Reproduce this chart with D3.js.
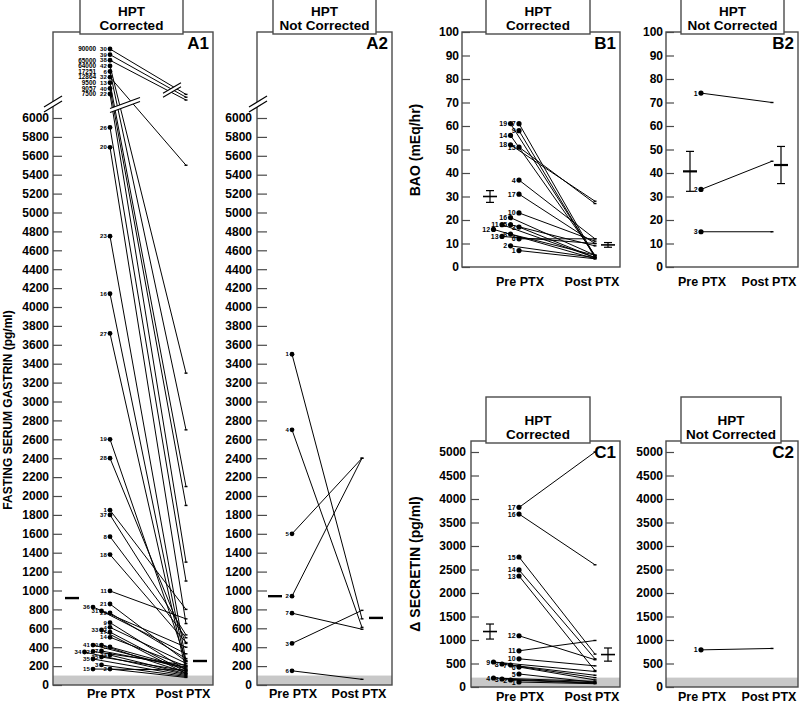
<!DOCTYPE html>
<html>
<head>
<meta charset="utf-8">
<script src="https://cdn.jsdelivr.net/npm/d3@7"></script>
<style>
  body { margin: 0; background: #fff; }
  text { font-family: "Liberation Sans", Arial, Helvetica, sans-serif; font-weight: bold; }
</style>
</head>
<body>
<div id="chart"></div>
<script>
const svgWidth = 800;
const svgHeight = 705;

// ---- values ----
// A: fasting serum gastrin (pg/ml), patients 1..42 / 1..7
const gastrinCorrectedId = d3.range(1, 43);
const gastrinCorrectedPre = [1850, 169, 212, 610, 402, 17251, 360, 1570, 660, 423,
  995, 355, 9500, 505, 169, 4140, 560, 1380, 2600, 5690,
  857, 7500, 4750, 317, 296, 5900, 3720, 2400, 762, 90000,
  783, 12864, 582, 349, 275, 825, 1800, 65000, 75000, 9057,
  423, 64000];
const gastrinCorrectedPost = [800, 80, 90, 230, 180, 2700, 190, 500, 160, 130,
  700, 210, 2100, 200, 160, 200, 140, 450, 260, 650,
  250, 1300, 250, 120, 150, 1100, 150, 440, 280, 6250,
  330, 5500, 120, 110, 100, 400, 530, 6190, 6220, 1900,
  170, 3300];
// values printed beside the points above the axis break (top to bottom)
const gastrinUpperId = [30, 39, 38, 42, 6, 32, 13, 40, 22];
const gastrinUpperText = ["90000", "", "65000", "64000", "17251", "12864", "9500", "9057", "7500"];
const gastrinCorrectedMedian = [920, 254];

const gastrinNotId = d3.range(1, 8);
const gastrinNotPre = [3500, 940, 440, 2700, 1600, 150, 760];
const gastrinNotPost = [700, 2400, 790, 610, 2400, 60, 590];
const gastrinNotMedian = [940, 710];

// B: basal acid output (mEq/hr)
const baoCorrectedId = d3.range(1, 20);
const baoCorrectedPre = [7, 9, 17, 37, 18, 12, 61, 14, 58, 23, 18, 16, 13, 56, 51, 21, 31, 52, 61];
const baoCorrectedPost = [3.5, 4, 4, 12, 9, 12, 4.5, 5, 4, 11, 4, 3.5, 10, 5, 27, 5, 10, 28, 4.5];
const baoCorrectedMean = [30, 9.4];
const baoCorrectedSem = [2.5, 1];

const baoNotId = [1, 2, 3];
const baoNotPre = [74, 33, 15];
const baoNotPost = [70, 45, 15];
const baoNotMean = [40.7, 43.4];
const baoNotSem = [8.5, 7.9];

// C: delta secretin (pg/ml)
const secCorrectedId = d3.range(1, 18);
const secCorrectedPre = [106, 149, 170, 191, 277, 425, 468, 489, 532, 600, 770, 1090, 2362, 2490, 2766, 3680, 3820];
const secCorrectedPost = [70, 80, 90, 120, 100, 150, 250, 200, 330, 450, 990, 580, 350, 600, 700, 2600, 5000];
const secCorrectedMean = [1180, 690];
const secCorrectedSem = [160, 140];

const secNotId = [1];
const secNotPre = [790];
const secNotPost = [820];

const xLabels = ["Pre PTX", "Post PTX"];

// ---- drawing ----
const svg = d3.select("#chart")
  .append("svg")
  .attr("width", svgWidth)
  .attr("height", svgHeight);

const boxColor = "#4a4a4a";
const bandColor = "#c8c8c8";

// y scales
const yA = d3.scaleLinear().domain([0, 6000]).range([685, 118]);
const yB = d3.scaleLinear().domain([0, 100]).range([267, 32]);
const yC = d3.scaleLinear().domain([0, 5000]).range([687, 452]);
// above the break the points are just stacked in order
const yUpper = d3.scalePoint().domain(gastrinUpperId).range([49, 94]);

// push close points to columns further left
function dodge(ys, minGap) {
  const cols = [];
  return ys.map(y => {
    if (y === null) return 0;
    let k = 0;
    while ((cols[k] || []).some(v => Math.abs(v - y) < minGap)) k++;
    (cols[k] = cols[k] || []).push(y);
    return k;
  });
}

// axis break: two parallel slanted strokes with white in between
function axisBreak(g, cx, cy, half, slope, gap) {
  const p = [[cx - half, cy + half * -slope], [cx + half, cy - half * -slope]];
  const pts = [
    [p[0][0], p[0][1] - gap / 2], [p[1][0], p[1][1] - gap / 2],
    [p[1][0], p[1][1] + gap / 2], [p[0][0], p[0][1] + gap / 2]
  ];
  g.append("polygon").attr("points", pts.map(d => d.join(",")).join(" ")).attr("fill", "#fff");
  g.append("line").attr("x1", pts[0][0]).attr("y1", pts[0][1]).attr("x2", pts[1][0]).attr("y2", pts[1][1])
    .attr("stroke", "#000").attr("stroke-width", 1.1);
  g.append("line").attr("x1", pts[3][0]).attr("y1", pts[3][1]).attr("x2", pts[2][0]).attr("y2", pts[2][1])
    .attr("stroke", "#000").attr("stroke-width", 1.1);
}

function panel(c) {
  const g = svg.append("g");
  const y = c.y;
  const yBottom = y(0);

  if (c.band) {
    g.append("rect").attr("x", c.x0).attr("y", y(c.band)).attr("width", c.x1 - c.x0)
      .attr("height", yBottom - y(c.band)).attr("fill", bandColor);
  }

  g.append("rect").attr("x", c.x0).attr("y", c.yTop).attr("width", c.x1 - c.x0)
    .attr("height", yBottom - c.yTop).attr("fill", "none")
    .attr("stroke", boxColor).attr("stroke-width", 1.4);

  const axis = d3.axisLeft(y).tickValues(c.ticks).tickSize(-c.tickLen).tickPadding(c.tickPad)
    .tickFormat(d3.format("d"));
  const ax = g.append("g").attr("transform", `translate(${c.x0},0)`).call(axis);
  ax.select(".domain").remove();
  ax.selectAll(".tick line").attr("stroke", boxColor).attr("stroke-width", 1.2);
  ax.selectAll(".tick text").attr("font-size", 12).attr("fill", "#000")
    .style("font-family", "'Liberation Sans', Arial, sans-serif").style("font-weight", "bold");

  // points
  const preY = c.pre.map((v, i) => (c.upperY && v > 6000) ? c.upperY(c.ids[i]) : y(v));
  const cols = dodge(preY.map((py, i) => (c.upperY && c.pre[i] > 6000) ? null : py), c.minGap);
  const pts = c.ids.map((id, i) => ({
    id: id,
    x: c.preX - cols[i] * c.colW,
    y: preY[i],
    px: c.postX,
    py: y(c.post[i])
  }));

  g.selectAll(".link").data(pts).enter().append("line")
    .attr("x1", d => d.x).attr("y1", d => d.y)
    .attr("x2", d => d.px).attr("y2", d => d.py)
    .attr("stroke", "#000").attr("stroke-width", 1);

  g.selectAll(".post").data(pts).enter().append("line")
    .attr("x1", d => d.px - 1.5).attr("x2", d => d.px + 1.5)
    .attr("y1", d => d.py).attr("y2", d => d.py)
    .attr("stroke", "#000").attr("stroke-width", 1.4);

  g.selectAll(".dot").data(pts).enter().append("circle")
    .attr("cx", d => d.x).attr("cy", d => d.y).attr("r", c.r).attr("fill", "#000");

  g.selectAll(".pid").data(pts).enter().append("text")
    .attr("x", d => d.x - c.r - 0.8).attr("y", d => d.y + c.labelFs * 0.36)
    .attr("text-anchor", "end").attr("font-size", c.labelFs).text(d => d.id);

  // summary marks
  if (c.median) {
    [[c.medX[0], c.median[0]], [c.medX[1], c.median[1]]].forEach(([mx, v]) => {
      g.append("line").attr("x1", mx - 7).attr("x2", mx + 7).attr("y1", y(v)).attr("y2", y(v))
        .attr("stroke", "#000").attr("stroke-width", 2.4);
    });
  }
  if (c.mean) {
    c.mean.forEach((v, i) => {
      const mx = c.meanX[i], s = c.sem[i];
      g.append("line").attr("x1", mx - 7).attr("x2", mx + 7).attr("y1", y(v)).attr("y2", y(v))
        .attr("stroke", "#000").attr("stroke-width", c.meanW);
      g.append("line").attr("x1", mx).attr("x2", mx).attr("y1", y(v - s)).attr("y2", y(v + s))
        .attr("stroke", "#000").attr("stroke-width", 1.2);
      [v - s, v + s].forEach(e => {
        g.append("line").attr("x1", mx - 4).attr("x2", mx + 4).attr("y1", y(e)).attr("y2", y(e))
          .attr("stroke", "#000").attr("stroke-width", 1.2);
      });
    });
  }

  // x labels
  g.append("text").attr("x", c.preX + 1).attr("y", c.xLabelY).attr("text-anchor", "middle")
    .attr("font-size", 12.5).text(xLabels[0]);
  g.append("text").attr("x", c.postX - 3).attr("y", c.xLabelY).attr("text-anchor", "middle")
    .attr("font-size", 12.5).text(xLabels[1]);

  // panel tag
  g.append("text").attr("x", c.x1 - 4).attr("y", c.yTop + 17).attr("text-anchor", "end")
    .attr("font-size", 17).text(c.name);

  // title box
  const tb = c.titleBox;
  g.append("rect").attr("x", tb[0]).attr("y", tb[2] - 46).attr("width", tb[1] - tb[0]).attr("height", 46)
    .attr("fill", "#fff").attr("stroke", boxColor).attr("stroke-width", 1.4);
  const tx = (tb[0] + tb[1]) / 2;
  g.append("text").attr("x", tx).attr("y", tb[2] - 18).attr("text-anchor", "middle")
    .attr("font-size", 13.5).text("HPT");
  g.append("text").attr("x", tx).attr("y", tb[2] - 4).attr("text-anchor", "middle")
    .attr("font-size", 13.5).text(c.title);

  return { g, pts };
}

const ticksA = d3.range(0, 6001, 200);
const ticksB = d3.range(0, 101, 10);
const ticksC = d3.range(0, 5001, 500);

const a1 = panel({
  name: "A1", title: "Corrected", titleBox: [80, 183, 34],
  x0: 53, x1: 213, yTop: 32, y: yA, upperY: yUpper, band: 100,
  ticks: ticksA, tickLen: 9, tickPad: 4,
  preX: 110, postX: 186, colW: 8.5, minGap: 4.5, r: 2.4, labelFs: 6,
  ids: gastrinCorrectedId, pre: gastrinCorrectedPre, post: gastrinCorrectedPost,
  median: gastrinCorrectedMedian, medX: [72, 200], xLabelY: 698
});

// printed values next to the top points
a1.g.selectAll(".uval").data(gastrinUpperId).enter().append("text")
  .attr("x", 96).attr("y", d => yUpper(d) + 2.3).attr("text-anchor", "end")
  .attr("font-size", 6.4).text((d, i) => gastrinUpperText[i]);

axisBreak(a1.g, 53, 104, 9, -0.62, 5);
axisBreak(a1.g, 125, 105, 15, -0.36, 4);
axisBreak(a1.g, 172, 90, 9, -0.58, 4);

const a2 = panel({
  name: "A2", title: "Not Corrected", titleBox: [273, 376, 34],
  x0: 257, x1: 392, yTop: 32, y: yA, band: 100,
  ticks: ticksA, tickLen: 10, tickPad: 5,
  preX: 292, postX: 362, colW: 8.5, minGap: 4.5, r: 2.4, labelFs: 6,
  ids: gastrinNotId, pre: gastrinNotPre, post: gastrinNotPost,
  median: gastrinNotMedian, medX: [275, 376], xLabelY: 698
});
axisBreak(a2.g, 258, 104, 9, -0.62, 5);

panel({
  name: "B1", title: "Corrected", titleBox: [486, 590, 34],
  x0: 462, x1: 620, yTop: 32, y: yB,
  ticks: ticksB, tickLen: 8, tickPad: 3,
  preX: 519, postX: 595, colW: 8.5, minGap: 5.5, r: 2.6, labelFs: 7,
  ids: baoCorrectedId, pre: baoCorrectedPre, post: baoCorrectedPost,
  mean: baoCorrectedMean, sem: baoCorrectedSem, meanX: [490, 608], meanW: 1.6, xLabelY: 286
});

panel({
  name: "B2", title: "Not Corrected", titleBox: [681, 784, 34],
  x0: 666, x1: 798, yTop: 32, y: yB,
  ticks: ticksB, tickLen: 8, tickPad: 3,
  preX: 701, postX: 772, colW: 8.5, minGap: 5.5, r: 2.6, labelFs: 7,
  ids: baoNotId, pre: baoNotPre, post: baoNotPost,
  mean: baoNotMean, sem: baoNotSem, meanX: [690, 781], meanW: 2.2, xLabelY: 286
});

panel({
  name: "C1", title: "Corrected", titleBox: [486, 590, 443],
  x0: 471, x1: 620, yTop: 441, y: yC, band: 200,
  ticks: ticksC, tickLen: 8, tickPad: 5,
  preX: 519, postX: 595, colW: 8.5, minGap: 5.5, r: 2.6, labelFs: 7,
  ids: secCorrectedId, pre: secCorrectedPre, post: secCorrectedPost,
  mean: secCorrectedMean, sem: secCorrectedSem, meanX: [490, 608], meanW: 1.6, xLabelY: 701
});

panel({
  name: "C2", title: "Not Corrected", titleBox: [681, 781, 443],
  x0: 666, x1: 798, yTop: 441, y: yC, band: 200,
  ticks: ticksC, tickLen: 8, tickPad: 3,
  preX: 701, postX: 772, colW: 8.5, minGap: 5.5, r: 2.6, labelFs: 7,
  ids: secNotId, pre: secNotPre, post: secNotPost, xLabelY: 701
});

// axis titles
[["FASTING SERUM GASTRIN (pg/ml)", 12, 410, 12],
 ["BAO (mEq/hr)", 420, 150, 14],
 ["\u0394 SECRETIN (pg/ml)", 420, 564, 14]].forEach(([t, x, y, fs]) => {
  svg.append("text").attr("transform", `translate(${x},${y}) rotate(-90)`)
    .attr("text-anchor", "middle").attr("font-size", fs).text(t);
});
</script>
</body>
</html>
